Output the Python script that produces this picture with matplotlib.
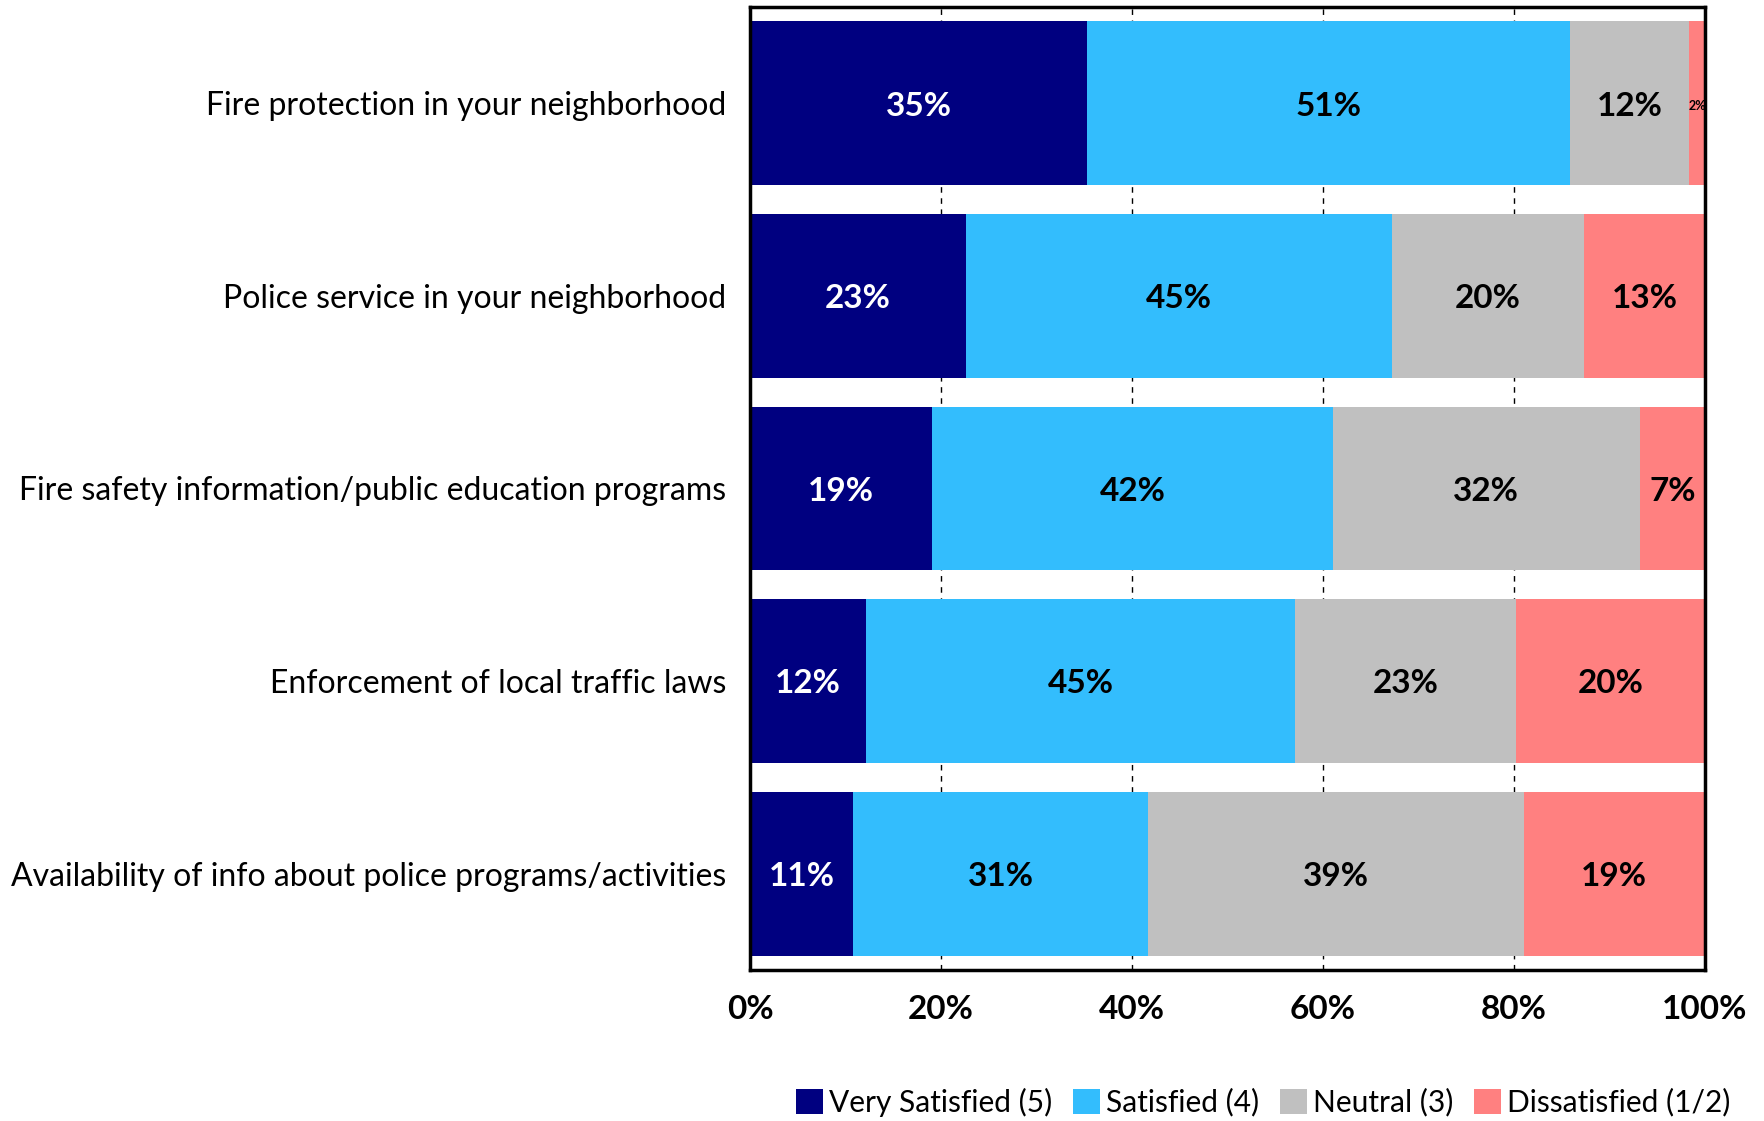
import matplotlib.pyplot as plt
import numpy as np

plt.rcParams['font.family'] = ['Lato', 'DejaVu Sans']

categories = ['Fire protection in your neighborhood',
              'Police service in your neighborhood',
              'Fire safety information/public education programs',
              'Enforcement of local traffic laws',
              'Availability of info about police programs/activities']
series = ['Very Satisfied (5)', 'Satisfied (4)', 'Neutral (3)', 'Dissatisfied (1/2)']
very_satisfied = [35.3, 22.6, 19.1, 12.1, 10.8]
satisfied = [50.6, 44.6, 41.9, 45.0, 30.9]
neutral = [12.4, 20.1, 32.2, 23.1, 39.3]
dissatisfied = [1.7, 12.8, 6.8, 19.8, 19.0]
colors = ['#000080', '#33BDFD', '#C0C0C0', '#FF8080']
text_colors = ['white', 'black', 'black', 'black']

fig = plt.figure(figsize=(17.64, 11.21), dpi=100)
ax = fig.add_axes([750 / 1764, 1 - 970 / 1121, 955 / 1764, 963 / 1121])

y = np.arange(len(categories))
left = np.zeros(len(categories))
for vals, name, c, tc in zip([very_satisfied, satisfied, neutral, dissatisfied],
                             series, colors, text_colors):
    vals = np.array(vals)
    bars = ax.barh(y, vals, left=left, height=0.85, color=c, label=name, zorder=2)
    for b, v in zip(bars, vals):
        cx = b.get_x() + b.get_width() / 2
        fs = 9 if v < 3 else 24
        ax.text(cx, b.get_y() + b.get_height() / 2 + 0.015, '%d%%' % round(v),
                ha='center', va='center', color=tc, fontsize=fs,
                fontweight='bold', zorder=3)
    left += vals

ax.set_xlim(0, 100)
ax.set_ylim(len(categories) - 0.5, -0.5)
ax.set_yticks(y)
ax.set_yticklabels(categories, fontsize=23)
ax.set_xticks(np.arange(0, 101, 20))
ax.set_xticklabels(['%d%%' % v for v in range(0, 101, 20)], fontsize=24, fontweight='bold')
ax.tick_params(axis='both', length=0)
ax.tick_params(axis='x', pad=18)
ax.tick_params(axis='y', pad=17)
ax.xaxis.grid(True, linestyle=(0, (4, 4)), color='black', linewidth=1, zorder=0)
ax.set_axisbelow(True)
for s in ax.spines.values():
    s.set_linewidth(2.5)

ax.legend(loc='center', bbox_to_anchor=(1263 / 1764, 1 - 1102 / 1121),
          bbox_transform=fig.transFigure, ncol=4, frameon=False, fontsize=21.5,
          handlelength=0.9, handleheight=0.9, handletextpad=0.2, columnspacing=0.7,
          borderaxespad=0)

fig.savefig('out.png', dpi=100)
